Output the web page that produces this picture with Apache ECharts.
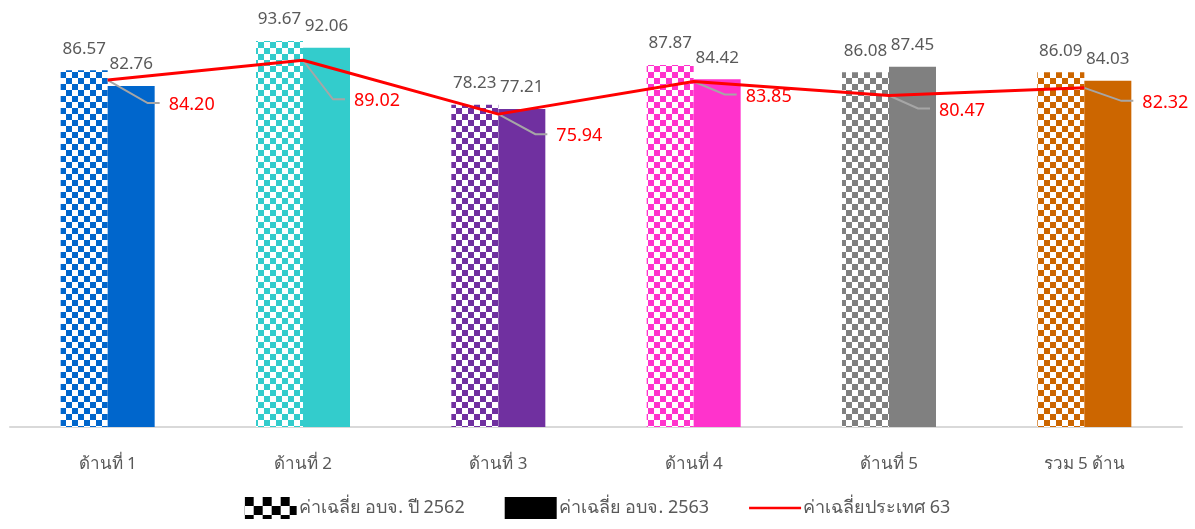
<!DOCTYPE html>
<html><head><meta charset="utf-8">
<script src="https://cdn.jsdelivr.net/npm/echarts@6/dist/echarts.min.js"></script>
<style>html,body{margin:0;padding:0;background:#fff}#c{width:1195px;height:529px}</style>
</head><body><div id="c"></div>
<script>
const categories = ['ด้านที่ 1','ด้านที่ 2','ด้านที่ 3','ด้านที่ 4','ด้านที่ 5','รวม 5 ด้าน'];
const values2562 = [86.57, 93.67, 78.23, 87.87, 86.08, 86.09];
const values2563 = [82.76, 92.06, 77.21, 84.42, 87.45, 84.03];
const valuesNation = [84.20, 89.02, 75.94, 83.85, 80.47, 82.32];
const seriesNames = ['ค่าเฉลี่ย อบจ. ปี 2562', 'ค่าเฉลี่ย อบจ. 2563', 'ค่าเฉลี่ยประเทศ 63'];
const catColors = ['#0066CC', '#33CCCC', '#7030A0', '#FF33CC', '#808080', '#CC6600'];
// label placement for the national-average labels (pixel offsets from the point)
const labelDx = [61, 51, 58, 52, 50, 58];
const labelDy = [23, 39, 20, 13, 13, 13];

function checker(color, size) {
  const c = document.createElement('canvas');
  c.width = size * 2; c.height = size * 2;
  const g = c.getContext('2d');
  g.fillStyle = '#ffffff'; g.fillRect(0, 0, size * 2, size * 2);
  g.fillStyle = color;
  g.fillRect(0, 0, size, size);
  g.fillRect(size, size, size, size);
  return { image: c, repeat: 'repeat' };
}

const fontFamily = '"Noto Sans", "Open Sans", sans-serif';
const chart = echarts.init(document.getElementById('c'));
chart.setOption({
  animation: false,
  textStyle: { fontFamily: fontFamily },
  grid: { left: 10, right: 13, top: 15, bottom: 102, containLabel: false },
  legend: {
    top: 497, left: 'center', padding: 0,
    itemWidth: 52, itemHeight: 22, itemGap: 40, symbolKeepAspect: true,
    textStyle: { color: '#595959', fontSize: 18, fontFamily: fontFamily, padding: [0, 0, 0, -3] },
    data: [
      { name: seriesNames[0], icon: 'rect' },
      { name: seriesNames[1], icon: 'rect' },
      { name: seriesNames[2], icon: 'path://M0,0 L60,0 L60,3 L0,3 Z' }
    ]
  },
  xAxis: {
    type: 'category', data: categories,
    axisLine: { lineStyle: { color: '#D9D9D9', width: 2 } },
    axisTick: { show: false },
    axisLabel: { color: '#595959', fontSize: 17, margin: 29, fontFamily: fontFamily }
  },
  yAxis: { type: 'value', min: 0, max: 100, show: false, splitLine: { show: false } },
  series: [
    {
      name: seriesNames[0], type: 'bar', barWidth: 47, barGap: '0%',
      itemStyle: { color: checker('#000000', 9) },
      label: { show: true, position: 'top', distance: 13, color: '#595959', fontSize: 17 },
      data: values2562.map((v, i) => ({ value: v, itemStyle: { color: checker(catColors[i], 6) } }))
    },
    {
      name: seriesNames[1], type: 'bar', barWidth: 47, barGap: '0%',
      itemStyle: { color: '#000000' },
      label: { show: true, position: 'top', distance: 13, color: '#595959', fontSize: 17 },
      data: values2563.map((v, i) => ({ value: v, itemStyle: { color: catColors[i] } }))
    },
    {
      name: seriesNames[2], type: 'line', data: valuesNation,
      symbol: 'none',
      lineStyle: { color: '#FF0000', width: 3 },
      itemStyle: { color: '#FF0000' },
      z: 5
    },
    {
      name: 'nation-labels', type: 'custom', z: 4,
      data: valuesNation.map((v, i) => [i, v]),
      renderItem: function (params, api) {
        const i = params.dataIndex;
        const p = api.coord([api.value(0), api.value(1)]);
        const lx = p[0] + labelDx[i], ly = p[1] + labelDy[i];
        return {
          type: 'group',
          children: [
            { type: 'polyline', shape: { points: [p, [lx - 21, ly], [lx - 9, ly]] },
              style: { stroke: '#A6A6A6', lineWidth: 2, fill: null } },
            { type: 'text', x: lx, y: ly + 2, z2: 10,
              style: { text: api.value(1).toFixed(2), fill: '#FF0000', fontSize: 18,
                       fontFamily: fontFamily, align: 'left', verticalAlign: 'middle' } }
          ]
        };
      }
    }
  ]
});
</script></body></html>
